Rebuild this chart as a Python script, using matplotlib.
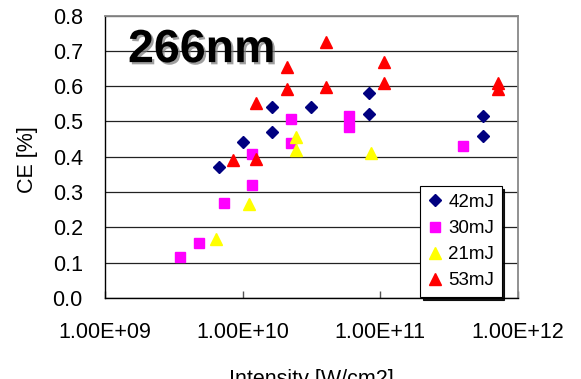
import matplotlib
matplotlib.use("Agg")
import matplotlib.pyplot as plt
import matplotlib.patheffects as pe
from matplotlib.ticker import FixedLocator, NullLocator, FormatStrFormatter, FuncFormatter

plt.rcParams['font.family'] = ['Liberation Sans', 'DejaVu Sans']

# Data
i42 = [6.76e9, 1.0e10, 1.64e10, 1.64e10, 3.13e10, 8.3e10, 8.3e10, 5.6e11, 5.6e11]
ce42 = [0.372, 0.443, 0.540, 0.469, 0.540, 0.580, 0.522, 0.514, 0.460]

i30 = [3.52e9, 4.82e9, 7.31e9, 1.17e10, 1.17e10, 2.24e10, 2.24e10, 5.92e10, 5.92e10, 4.0e11]
ce30 = [0.115, 0.155, 0.270, 0.319, 0.408, 0.506, 0.438, 0.516, 0.484, 0.430]

i21 = [6.43e9, 1.11e10, 2.44e10, 2.44e10, 8.51e10]
ce21 = [0.168, 0.265, 0.455, 0.419, 0.410]

i53 = [8.55e9, 1.26e10, 1.26e10, 2.09e10, 2.09e10, 4.01e10, 4.01e10, 1.06e11, 1.06e11, 7.15e11, 7.15e11]
ce53 = [0.391, 0.393, 0.552, 0.655, 0.592, 0.726, 0.597, 0.668, 0.610, 0.608, 0.591]

series_labels = ['42mJ', '30mJ', '21mJ', '53mJ']
x_ticks = [1e9, 1e10, 1e11, 1e12]
x_tick_labels = ['1.00E+09', '1.00E+10', '1.00E+11', '1.00E+12']
y_ticks = [0.0, 0.1, 0.2, 0.3, 0.4, 0.5, 0.6, 0.7, 0.8]
title_text = '266nm'
x_label = 'Intensity [W/cm2]'
y_label = 'CE [%]'

fig = plt.figure(figsize=(5.81, 3.79), dpi=100)
ax = fig.add_axes([0.1807, 0.2137, 0.7108, 0.7454])

ax.set_xscale('log')
ax.set_xlim(1e9, 1e12)
ax.set_ylim(0, 0.8)

ax.plot(i42, ce42, linestyle='none', marker='D', markersize=5.7, color='#000080', label=series_labels[0], zorder=3)
ax.plot(i30, ce30, linestyle='none', marker='s', markersize=7.7, color='#FF00FF', label=series_labels[1], zorder=3)
ax.plot(i21, ce21, linestyle='none', marker='^', markersize=8.0, color='#FFFF00', label=series_labels[2], zorder=3)
ax.plot(i53, ce53, linestyle='none', marker='^', markersize=8.0, color='#FF0000', label=series_labels[3], zorder=3)

ax.xaxis.set_major_locator(FixedLocator(x_ticks))
ax.xaxis.set_minor_locator(NullLocator())
ax.xaxis.set_major_formatter(FuncFormatter(lambda v, p: x_tick_labels[x_ticks.index(v)] if v in x_ticks else ''))
ax.yaxis.set_major_locator(FixedLocator(y_ticks))
ax.yaxis.set_major_formatter(FormatStrFormatter('%.1f'))

ax.tick_params(axis='x', direction='in', length=5, width=1, color='#555555', pad=17, labelsize=15.5)
ax.tick_params(axis='y', length=0, pad=16, labelsize=15.5)

ax.grid(axis='y', color='#222222', linewidth=0.9)
ax.set_axisbelow(True)

for s in ['left', 'bottom']:
    ax.spines[s].set_color('black')
    ax.spines[s].set_linewidth(1.0)
for s in ['top', 'right']:
    ax.spines[s].set_color('#888888')
    ax.spines[s].set_linewidth(1.3)

ax.set_xlabel(x_label, fontsize=15.5, labelpad=19)
ax.set_ylabel(y_label, fontsize=15.5)
ax.yaxis.set_label_coords(-0.162, 0.49)

ax.text(1.47e9, 0.668, title_text, fontsize=33.5, fontweight='bold', va='baseline', ha='left', color='black',
        path_effects=[pe.SimplePatchShadow(offset=(1.6, -1.6), shadow_rgbFace='#777777', alpha=0.7), pe.Normal()])

leg = ax.legend(loc='lower left', bbox_to_anchor=(0.763, 0.004), fontsize=13.5, frameon=True,
                fancybox=False, edgecolor='black', framealpha=1, borderpad=0.4,
                labelspacing=0.48, handlelength=0.8, handletextpad=0.3, borderaxespad=0,
                shadow={'color': 'black', 'alpha': 0.9})
leg.get_frame().set_linewidth(0.8)

fig.savefig('out.png', dpi=100)
